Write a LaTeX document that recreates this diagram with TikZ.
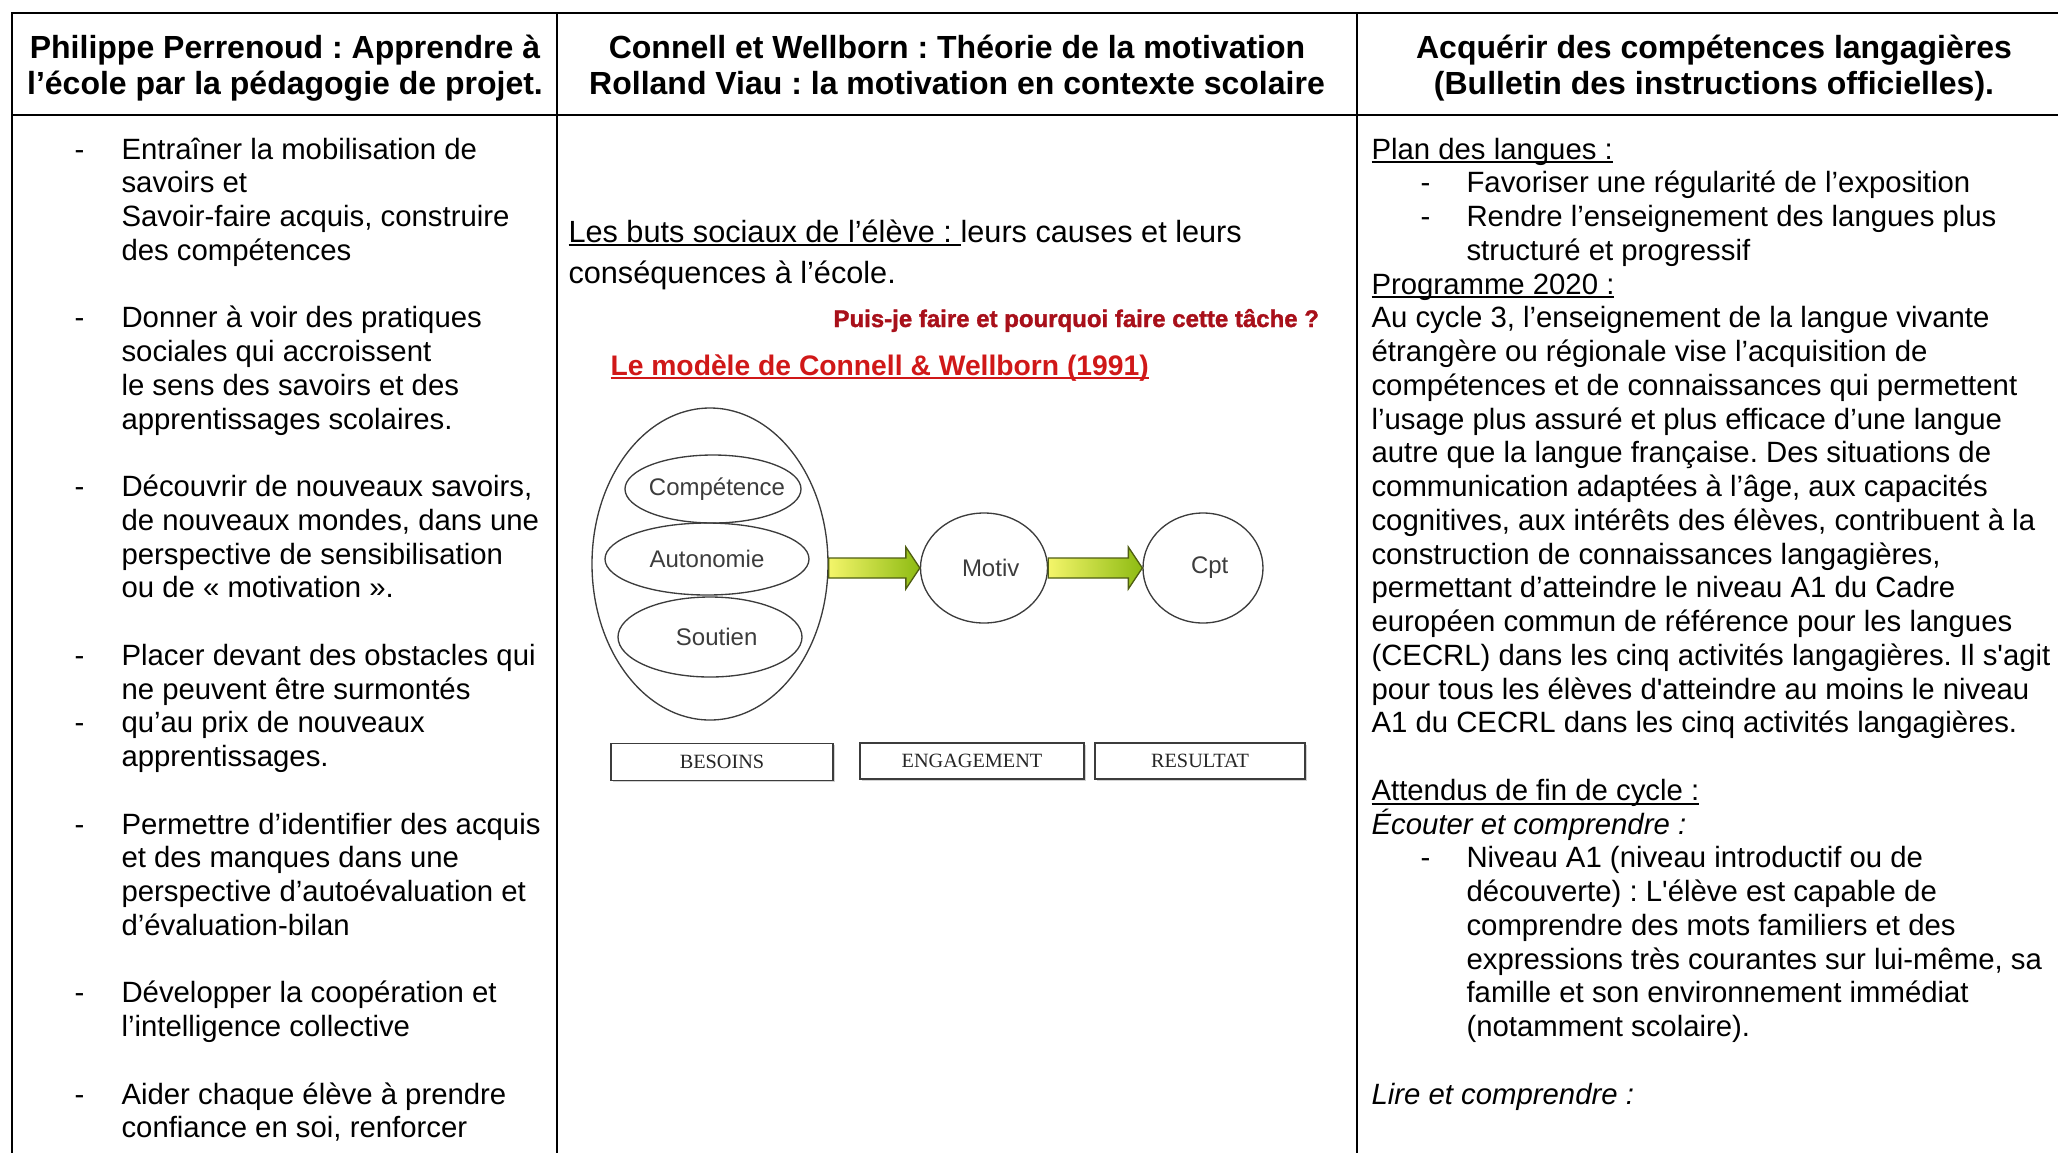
\documentclass[tikz,border=0pt]{standalone}
\usepackage{fontspec}
\setmainfont{Liberation Sans}
\newfontfamily\boxfont{Liberation Serif}
\newfontfamily\questFont[FakeBold=1.5]{Liberation Sans Bold}
\usetikzlibrary{shapes.geometric, shadows, calc}
\frenchspacing

\definecolor{questRed}{HTML}{A8101A}
\definecolor{titleRed}{HTML}{D01818}
\definecolor{arrowYellow}{HTML}{F4F56A}
\definecolor{arrowGreen}{HTML}{8DBB12}
\definecolor{arrowEdge}{HTML}{4F5E12}
\definecolor{diagGray}{HTML}{3C3C3C}

\newcommand{\pxu}{0.375pt}
\newsavebox{\ulBox}
\newcommand{\ulText}[1]{\sbox{\ulBox}{#1}\rlap{\rule[-1.6pt]{\wd\ulBox}{.7pt}}\usebox{\ulBox}}

% fat arrow from one node to the next, on the height of the second
\newcommand{\fatArrow}[2]{%
	\draw[arrowFill] ($(#1 |- #2)+(0,-10)$) -- ($(#2)+(-14,-10)$) -- ($(#2)+(-14,-21)$)
		-- (#2) -- ($(#2)+(-14,21)$) -- ($(#2)+(-14,10)$) -- ($(#1 |- #2)+(0,10)$) -- cycle;}

\begin{document}
\begin{tikzpicture}[
	x=\pxu, y=-\pxu,
	tableLine/.style={line width=1pt, line cap=rect},
	head/.style={anchor=base, inner sep=0, font=\fontsize{12}{14}\selectfont\bfseries},
	body/.style={anchor=base west, inner sep=0, font=\fontsize{11}{13}\selectfont},
	bubble/.style={ellipse, draw=diagGray, line width=.5pt, inner sep=0, text=diagGray, font=\fontsize{9}{11}\selectfont},
	stage/.style={draw=diagGray, line width=.5pt, fill=white, inner sep=0, drop shadow={shadow xshift=.7pt, shadow yshift=-.7pt, fill=black!35}, text=black!85, font=\boxfont\fontsize{7.6}{9}\selectfont},
	arrowFill/.style={draw=arrowEdge, line width=.5pt, left color=arrowYellow, right color=arrowGreen}
	]
	
	\useasboundingbox (0,0) rectangle (2058,1152);
	
	% Tableau
	\draw[tableLine] (12,1152) -- (12,13) -- (2058,13);
	\draw[tableLine] (12,115) -- (2058,115);
	\draw[tableLine] (557,13) -- (557,1152);
	\draw[tableLine] (1357,13) -- (1357,1152);
	
	\node[head] (h1a) at (285,58) {Philippe Perrenoud : Apprendre à};
	\node[head] (h1b) at (285,94) {l’école par la pédagogie de projet.};
	\node[head] (h2a) at (957,58) {Connell et Wellborn : Théorie de la motivation};
	\node[head] (h2b) at (957,94) {Rolland Viau : la motivation en contexte scolaire};
	\node[head] (h3a) at (1714,58) {Acquérir des compétences langagières};
	\node[head] (h3b) at (1714,94) {(Bulletin des instructions officielles).};
	
	% Perrenoud
	\foreach \n in {0,5,10,15,17,20,25,28}
		\node[body] (dl\n) at (74,{159+33.75*\n}) {-};
	\foreach \n/\t in {0/{Entraîner la mobilisation de}, 1/{savoirs et}, 2/{Savoir-faire acquis, construire}, 3/{des compétences},
		5/{Donner à voir des pratiques}, 6/{sociales qui accroissent}, 7/{le sens des savoirs et des}, 8/{apprentissages scolaires.},
		10/{Découvrir de nouveaux savoirs,}, 11/{de nouveaux mondes, dans une}, 12/{perspective de sensibilisation}, 13/{ou de « motivation ».},
		15/{Placer devant des obstacles qui}, 16/{ne peuvent être surmontés}, 17/{qu’au prix de nouveaux}, 18/{apprentissages.},
		20/{Permettre d’identifier des acquis}, 21/{et des manques dans une}, 22/{perspective d’autoévaluation et}, 23/{d’évaluation-bilan},
		25/{Développer la coopération et}, 26/{l’intelligence collective},
		28/{Aider chaque élève à prendre}, 29/{confiance en soi, renforcer}}
		\node[body] (l\n) at (121,{159+33.75*\n}) {\t};
	
	% Connell et Wellborn
	\node[body, font=\fontsize{11.5}{13}\selectfont] (buts) at (568,242) {\ulText{Les buts sociaux de l’élève :\ }leurs causes et leurs};
	\node[body, font=\fontsize{11.5}{13}\selectfont] (conseq) at (568,283) {conséquences à l’école.};
	\node[body, text=questRed, font=\questFont\fontsize{9}{11}\selectfont] (quest) at (833,327) {Puis-je faire et pourquoi faire cette tâche ?};
	\node[body, text=titleRed, font=\fontsize{10.6}{12}\selectfont\bfseries] (model) at (610,375) {\ulText{Le modèle de Connell \& Wellborn (1991)}};
	
	\node[bubble, minimum width=236*\pxu, minimum height=312*\pxu] (needs) at (710,564) {};
	\node[bubble, minimum width=176*\pxu, minimum height=68*\pxu] (comp) at (713,489) {\makebox[0pt]{\hspace{3pt}Compétence}};
	\node[bubble, minimum width=204*\pxu, minimum height=72*\pxu] (auton) at (707,559) {Autonomie};
	\node[bubble, minimum width=184*\pxu, minimum height=80*\pxu] (soutien) at (710,637) {\hspace{5pt}Soutien};
	\node[bubble, minimum width=127*\pxu, minimum height=110*\pxu] (motiv) at (984,568) {\hspace{5pt}Motiv};
	\node[bubble, minimum width=120*\pxu, minimum height=110*\pxu] (cpt) at (1203,568) {\hspace{5pt}Cpt};
	
	\fatArrow{needs.east}{motiv.west}
	\fatArrow{motiv.east}{cpt.west}
	
	\node[stage, minimum width=222*\pxu, minimum height=37*\pxu] (besoins) at (722,762) {BESOINS};
	\node[stage, minimum width=224*\pxu, minimum height=36*\pxu] (engag) at (972,761) {ENGAGEMENT};
	\node[stage, minimum width=210*\pxu, minimum height=36*\pxu] (result) at (1200,761) {RESULTAT};
	
	% Bulletin officiel
	\foreach \n in {1,2,21}
		\node[body] (dr\n) at (1420,{159+33.75*\n}) {-};
	\foreach \n/\t in {0/{\ulText{Plan des langues :}}, 4/{\ulText{Programme 2020 :}},
		5/{Au cycle 3, l’enseignement de la langue vivante}, 6/{étrangère ou régionale vise l’acquisition de},
		7/{compétences et de connaissances qui permettent}, 8/{l’usage plus assuré et plus efficace d’une langue},
		9/{autre que la langue française. Des situations de}, 10/{communication adaptées à l’âge, aux capacités},
		11/{cognitives, aux intérêts des élèves, contribuent à la}, 12/{construction de connaissances langagières,},
		13/{permettant d’atteindre le niveau A1 du Cadre}, 14/{européen commun de référence pour les langues},
		15/{(CECRL) dans les cinq activités langagières. Il s\textquotesingle agit}, 16/{pour tous les élèves d\textquotesingle atteindre au moins le niveau},
		17/{A1 du CECRL dans les cinq activités langagières.},
		19/{\ulText{Attendus de fin de cycle :}}, 20/{\itshape Écouter et comprendre :}, 28/{\itshape Lire et comprendre :}}
		\node[body] (r\n) at (1371,{159+33.75*\n}) {\t};
	\foreach \n/\t in {1/{Favoriser une régularité de l’exposition}, 2/{Rendre l’enseignement des langues plus}, 3/{structuré et progressif},
		21/{Niveau A1 (niveau introductif ou de}, 22/{découverte) : L\textquotesingle élève est capable de},
		23/{comprendre des mots familiers et des}, 24/{expressions très courantes sur lui-même, sa},
		25/{famille et son environnement immédiat}, 26/{(notamment scolaire).}}
		\node[body] (s\n) at (1466,{159+33.75*\n}) {\t};
\end{tikzpicture}
\end{document}
